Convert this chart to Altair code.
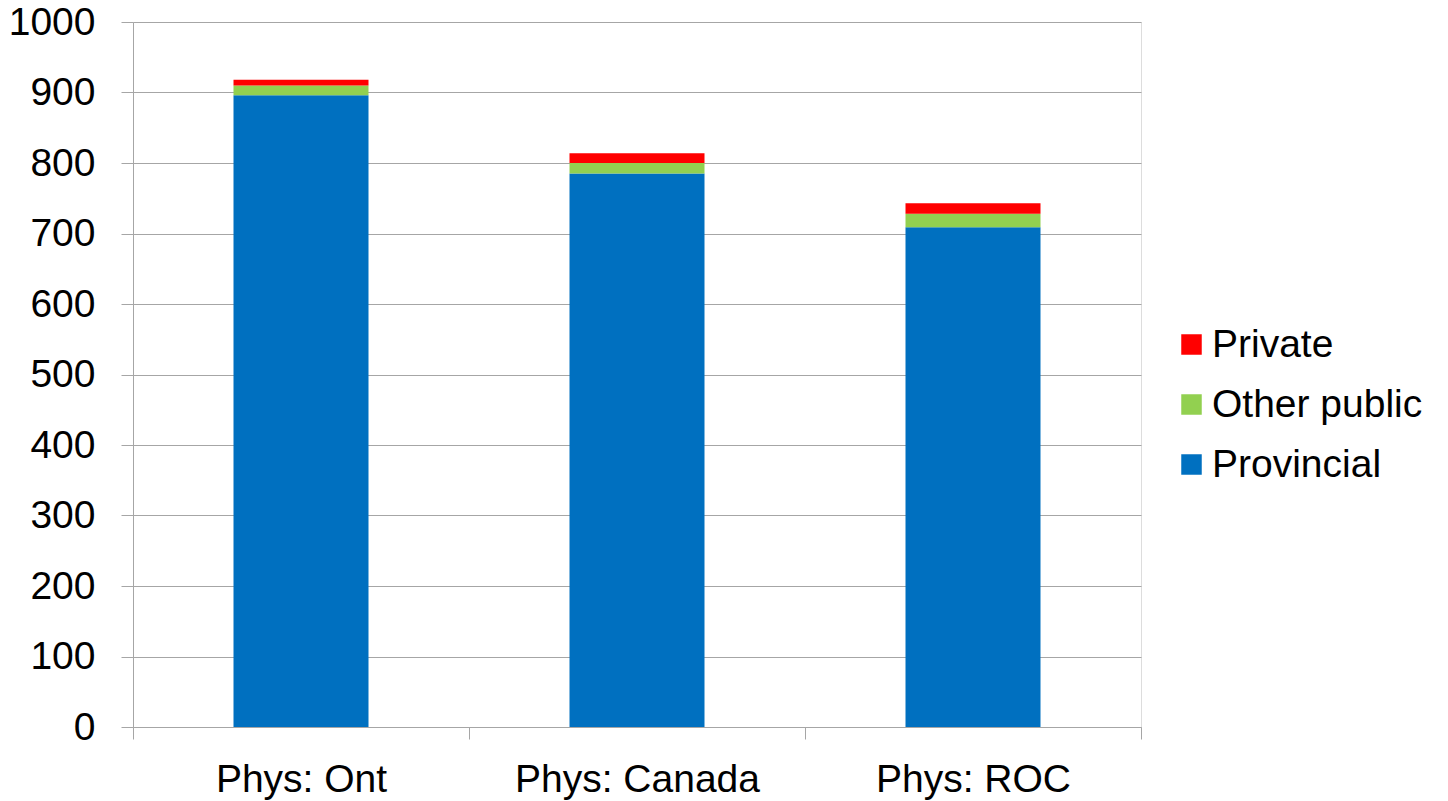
import altair as alt
import pandas as pd

# Spending per capita by funding source
regions = ["Phys: Ont", "Phys: Canada", "Phys: ROC"]
provincial = [896, 785, 709]
other_public = [14, 15, 19]
private = [8, 14, 15]

sources = ["Private", "Other public", "Provincial"]
colors = ["#FF0000", "#92D050", "#0070C0"]
stack_rank = {"Provincial": 0, "Other public": 1, "Private": 2}

rows = []
for i, r in enumerate(regions):
    for src, vals in (("Provincial", provincial), ("Other public", other_public), ("Private", private)):
        rows.append({"region": r, "source": src, "value": vals[i], "rank": stack_rank[src]})
df = pd.DataFrame(rows)

FONT = "Liberation Sans"
FS = 39
AXIS_GREY = "#A6A6A6"

chart = (
    alt.Chart(df)
    .mark_bar(size=135)
    .encode(
        x=alt.X(
            "region:N",
            sort=regions,
            title=None,
            scale=alt.Scale(paddingInner=0.0, paddingOuter=0.0),
            axis=alt.Axis(
                labelAngle=0,
                tickBand="extent",
                tickSize=12,
                labelPadding=21,
                labelFontSize=FS,
                labelFont=FONT,
                labelColor="#000000",
                labelLimit=0,
                domainColor=AXIS_GREY,
                tickColor=AXIS_GREY,
                grid=False,
            ),
        ),
        y=alt.Y(
            "sum(value):Q",
            title=None,
            stack="zero",
            scale=alt.Scale(domain=[0, 1000], nice=False),
            axis=alt.Axis(
                values=list(range(0, 1001, 100)),
                format="d",
                tickSize=12,
                labelPadding=26,
                labelFontSize=FS,
                labelFont=FONT,
                labelColor="#000000",
                labelLimit=0,
                domainColor=AXIS_GREY,
                tickColor=AXIS_GREY,
                gridColor=AXIS_GREY,
                gridWidth=1,
            ),
        ),
        color=alt.Color(
            "source:N",
            scale=alt.Scale(domain=sources, range=colors),
            legend=alt.Legend(
                title=None,
                orient="none",
                legendX=1039,
                legendY=303,
                symbolType="square",
                symbolSize=420,
                symbolStrokeWidth=0,
                labelFontSize=FS,
                labelFont=FONT,
                labelColor="#000000",
                labelLimit=0,
                labelOffset=1,
                rowPadding=20,
            ),
        ),
        order=alt.Order("rank:Q", sort="ascending"),
    )
    .properties(
        width=1008,
        height=705,
        autosize=alt.AutoSizeParams(type="none"),
        padding={"left": 133, "top": 22, "right": 307, "bottom": 74},
    )
    .configure_view(stroke=None)
    .configure(background="#FFFFFF")
)

chart.save("out.html", embed_options={"renderer": "svg", "actions": False})
